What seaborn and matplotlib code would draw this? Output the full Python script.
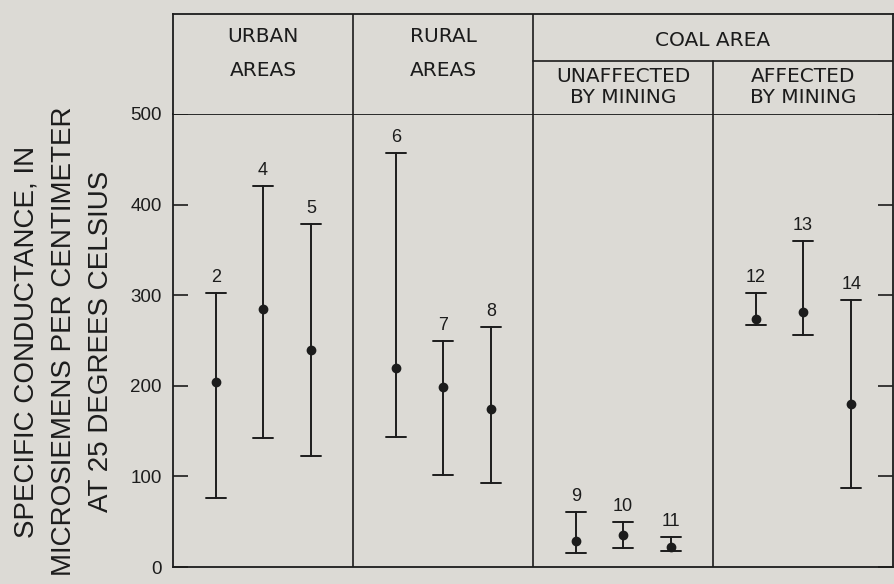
import numpy as np
import pandas as pd
import matplotlib
matplotlib.use("Agg")
import matplotlib.pyplot as plt
import seaborn as sns

# site numbers and their area group
sites = [2, 4, 5, 6, 7, 8, 9, 10, 11, 12, 13, 14]
group_idx = [0, 0, 0, 1, 1, 1, 2, 2, 2, 3, 3, 3]

# specific conductance, microsiemens per cm at 25 C
cond_min = [76, 142, 122, 144, 102, 93, 15, 21, 18, 267, 256, 87]
cond_mean = [204, 285, 239, 220, 199, 174, 29, 35, 22, 274, 281, 180]
cond_max = [302, 421, 379, 457, 249, 265, 61, 50, 33, 302, 360, 295]

header_top = ["URBAN\nAREAS", "RURAL\nAREAS"]
coal_title = "COAL AREA"
coal_sub = ["UNAFFECTED\nBY MINING", "AFFECTED\nBY MINING"]
y_ticks = [0, 100, 200, 300, 400, 500]
y_label = "SPECIFIC CONDUCTANCE, IN\nMICROSIEMENS PER CENTIMETER\nAT 25 DEGREES CELSIUS"

PAPER = "#dcdad5"
INK = "#1c1c1c"
SLOTS = [0.95, 2.0, 3.07]

sns.set_style("ticks")
plt.rcParams["font.family"] = ["Liberation Sans", "DejaVu Sans"]

# long table: min / mean / max per site -> median = mean, 100% interval = range
pos = []
for i, g in enumerate(group_idx):
    pos.append(4 * g + SLOTS[i % 3])
rows = []
for p, lo, mid, hi in zip(pos, cond_min, cond_mean, cond_max):
    for v in (lo, mid, hi):
        rows.append({"pos": p, "value": v})
df = pd.DataFrame(rows)

fig = plt.figure(figsize=(8.95, 5.84), dpi=100, facecolor=PAPER)
ax = fig.add_axes([0.1933, 0.0291, 0.8045, 0.7757], facecolor=PAPER)
hx = fig.add_axes([0.1933, 0.8048, 0.8045, 0.1712], facecolor=PAPER)

sns.pointplot(data=df, x="pos", y="value", native_scale=True,
              estimator="median", errorbar=("pi", 100), capsize=0.42,
              color=INK, linestyle="none", marker="o", markersize=5,
              err_kws={"linewidth": 1.4}, ax=ax)

for s, p, hi in zip(sites, pos, cond_max):
    ax.annotate(str(s), (p, hi), xytext=(0, 5), textcoords="offset points",
                ha="center", va="bottom", fontsize=13, color=INK)

for xv in (4, 8, 12):
    ax.axvline(xv, color=INK, lw=1.2)

ax.set_xlim(0, 16)
ax.set_ylim(0, 500)
ax.set_yticks(y_ticks)
ax.set_xticks([])
ax.set_xlabel("")
ax.set_ylabel("")
ax.tick_params(axis="y", direction="in", length=11, width=1.2, pad=8,
               labelsize=13.5, colors=INK, right=True, labelright=False)
for sp in ax.spines.values():
    sp.set_visible(True)
    sp.set_color(INK)
    sp.set_linewidth(1.3)

# header table above the plot
hx.set_xlim(0, 16)
hx.set_ylim(0, 1)
hx.set_xticks([])
hx.set_yticks([])
for sp in hx.spines.values():
    sp.set_color(INK)
    sp.set_linewidth(1.3)
hx.spines["bottom"].set_visible(False)
for xv in (4, 8):
    hx.axvline(xv, color=INK, lw=1.2)
hx.axvline(12, ymin=0, ymax=0.53, color=INK, lw=1.2)
hx.axhline(0.53, xmin=0.5, xmax=1.0, color=INK, lw=1.2)

hdr_font = dict(fontsize=14.5, color=INK, ha="center", va="center",
                family=["DejaVu Sans"])
for k, txt in enumerate(header_top):
    hx.text(4 * k + 2, 0.605, txt, linespacing=2.05, **hdr_font)
hx.text(12, 0.74, coal_title, **hdr_font)
for k, txt in enumerate(coal_sub):
    hx.text(10 + 4 * k, 0.27, txt, linespacing=1.15, **hdr_font)

fig.text(0.071, 0.415, y_label, rotation=90, ha="center", va="center",
         multialignment="center", fontsize=20, color=INK, linespacing=1.55)

fig.savefig("out.png", dpi=100, facecolor=PAPER)
